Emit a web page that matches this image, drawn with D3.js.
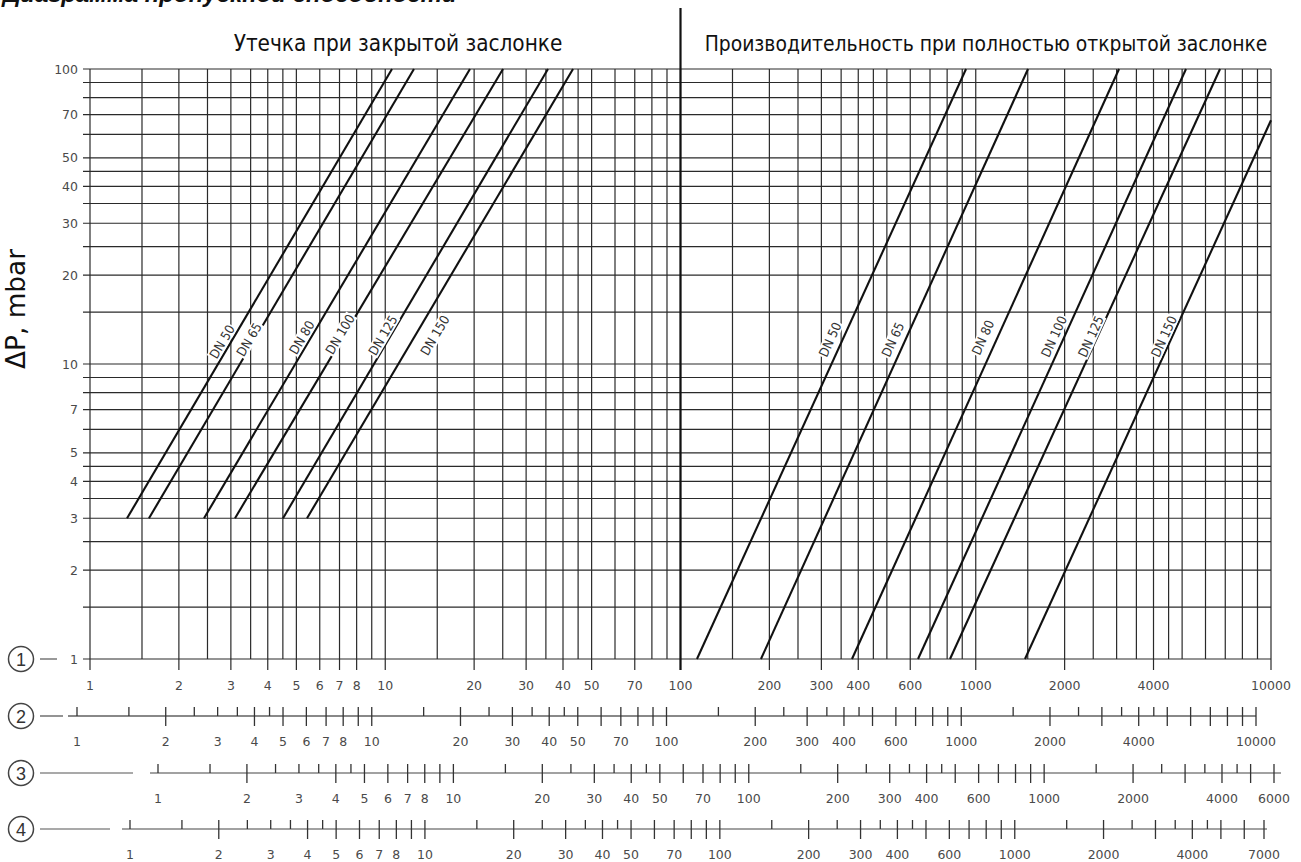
<!DOCTYPE html>
<html><head><meta charset="utf-8">
<script src="https://cdn.jsdelivr.net/npm/d3@7"></script>
<style>body{margin:0;background:#fff} svg{display:block}</style>
</head><body>
<script>
// ---------- data ----------
const titleText = "Диаграмма пропускной способности";
const leftHeader = "Утечка при закрытой заслонке";
const rightHeader = "Производительность при полностью открытой заслонке";
const yTitle = "ΔP, mbar";
const gridMantissas = [1, 1.5, 2, 2.5, 3, 3.5, 4, 4.5, 5, 6, 7, 8, 9];
const shortTickMantissas = [1.5, 2.5, 3.5, 4.5];
const shortTickExtra = [1, 3];
const yTickLabels = [1, 2, 3, 4, 5, 7, 10, 20, 30, 40, 50, 70, 100];
const xLabels1 = [1,2,3,4,5,6,7,8,10,20,30,40,50,70,100,200,300,400,600,1000,2000,4000,10000];
const xLabels2 = [1,2,3,4,5,6,7,8,10,20,30,40,50,70,100,200,300,400,600,1000,2000,4000,10000];
const xLabels3 = [1,2,3,4,5,6,7,8,10,20,30,40,50,70,100,200,300,400,600,1000,2000,4000,6000];
const xLabels4 = [1,2,3,4,5,6,7,8,10,20,30,40,50,70,100,200,300,400,600,1000,2000,4000,7000];
const scaleMax = [10000, 10000, 6000, 7000];
const scaleIds = ["1", "2", "3", "4"];

const dnNames = ["DN 50", "DN 65", "DN 80", "DN 100", "DN 125", "DN 150"];
// leakage with closed damper (ΔP 3 -> 100)
const leakStartQ = [1.335, 1.584, 2.433, 3.098, 4.505, 5.433];
const leakStartP = [3, 3, 3, 3, 3, 3];
const leakEndQ = [10.54, 12.51, 19.36, 25.05, 35.58, 43.25];
const leakEndP = [100, 100, 100, 100, 100, 100];
const leakLabelQ = [2.80, 3.46, 5.22, 7.03, 9.83, 14.74];
const leakLabelP = [11.9, 12.1, 12.3, 12.6, 12.5, 12.5];
// capacity with fully open damper (ΔP 1 -> 100)
const flowStartQ = [113.7, 187.3, 380.9, 637.5, 818.1, 1468];
const flowStartP = [1, 1, 1, 1, 1, 1];
const flowEndQ = [927, 1503, 3057, 5153, 6720, 10000];
const flowEndP = [100, 100, 100, 100, 100, 67];
const flowLabelQ = [321, 524, 1058, 1841, 2455, 4341];
const flowLabelP = [12.1, 12.1, 12.3, 12.4, 12.4, 12.4];

// ---------- drawing ----------
const W = 1301, H = 862;
const svg = d3.select("body").append("svg").attr("width", W).attr("height", H);
const x = d3.scaleLog().domain([1, 10000]).range([90, 1271]);
const y = d3.scaleLog().domain([1, 100]).range([659, 69]);
const sx = [
  x,
  d3.scaleLog().domain([1, 10000]).range([77, 1256]),
  d3.scaleLog().domain([1, 6000]).range([158, 1274]),
  d3.scaleLog().domain([1, 7000]).range([130, 1264])
];
const scaleLabels = [xLabels1, xLabels2, xLabels3, xLabels4];
const scaleY = [659, 716, 773, 829];

const gridColor = "#2a2a2a";
const labelFont = "'DejaVu Sans', Verdana, sans-serif";
const titleFont = "'Liberation Sans', Arial, sans-serif";
const tickColor = "#4a4a4a";

function gridVals(lo, hi) {
  const out = [];
  for (let e = 0; e <= 4; e++) for (const m of gridMantissas) {
    const v = +(m * Math.pow(10, e)).toPrecision(6);
    if (v >= lo && v <= hi) out.push(v);
  }
  return out;
}

// title (cut off at top, as in the source)
svg.append("text").attr("x", 3).attr("y", 2)
  .attr("font-family", titleFont).attr("font-weight", "bold").attr("font-style", "italic")
  .attr("font-size", 24).attr("fill", "#111").text(titleText);

function fitText(sel, target) {
  const w = sel.node().getComputedTextLength();
  const fs = parseFloat(sel.attr("font-size"));
  sel.attr("font-size", fs * target / w);
}
const headerFont = "'DejaVu Sans Condensed', 'DejaVu Sans', sans-serif";
const h1 = svg.append("text").attr("x", 398).attr("y", 51).attr("text-anchor", "middle")
  .attr("font-family", headerFont).attr("font-size", 18).attr("fill", "#111").text(leftHeader);
fitText(h1, 329);
const h2 = svg.append("text").attr("x", 986).attr("y", 51).attr("text-anchor", "middle")
  .attr("font-family", headerFont).attr("font-size", 18).attr("fill", "#111").text(rightHeader);
fitText(h2, 563);
const yt = svg.append("text").attr("transform", "translate(25,309) rotate(-90)").attr("text-anchor", "middle")
  .attr("font-family", "'DejaVu Sans', sans-serif").attr("font-size", 19).attr("fill", "#111").text(yTitle);
fitText(yt, 120);

// grid
const g = svg.append("g");
g.selectAll("line.h").data(gridVals(1, 100)).join("line")
  .attr("x1", 83).attr("x2", x(10000)).attr("y1", d => y(d)).attr("y2", d => y(d))
  .attr("stroke", gridColor).attr("stroke-width", 1.2);
g.selectAll("line.v").data(gridVals(1, 10000)).join("line")
  .attr("x1", d => x(d)).attr("x2", d => x(d))
  .attr("y1", y(100)).attr("y2", d => y(1) + (xLabels1.includes(d) ? 11 : 0))
  .attr("stroke", gridColor).attr("stroke-width", 1.2);

// divider
svg.append("line").attr("x1", x(100)).attr("x2", x(100)).attr("y1", 8).attr("y2", y(1) + 11)
  .attr("stroke", "#111").attr("stroke-width", 2.2);

// y tick labels
svg.selectAll("text.yl").data(yTickLabels).join("text")
  .attr("x", 78).attr("y", d => y(d) + 4.5).attr("text-anchor", "end")
  .attr("font-family", labelFont).attr("font-size", 12.5).attr("fill", tickColor).text(d => d);

// DN lines
const line = d3.line().x(d => x(d[0])).y(d => y(d[1]));
const lines = svg.append("g");
const labels = svg.append("g");
function drawGroup(sQ, sP, eQ, eP, lQ, lP) {
  dnNames.forEach((name, i) => {
    lines.append("path").attr("d", line([[sQ[i], sP[i]], [eQ[i], eP[i]]]))
      .attr("fill", "none").attr("stroke", "#111").attr("stroke-width", 2.1);
    const ang = Math.atan2(y(eP[i]) - y(sP[i]), x(eQ[i]) - x(sQ[i])) * 180 / Math.PI;
    const lg = labels.append("g").attr("transform", `translate(${x(lQ[i])},${y(lP[i])}) rotate(${ang})`);
    const rect = lg.append("rect").attr("fill", "#fff");
    const t = lg.append("text").attr("text-anchor", "middle").attr("dy", "0.35em")
      .attr("font-family", "'DejaVu Sans Condensed', 'DejaVu Sans', sans-serif")
      .attr("font-size", 13).attr("fill", "#333").text(name);
    const bb = t.node().getBBox();
    rect.attr("x", bb.x - 1).attr("y", bb.y + 1).attr("width", bb.width + 2).attr("height", bb.height - 2);
  });
}
drawGroup(leakStartQ, leakStartP, leakEndQ, leakEndP, leakLabelQ, leakLabelP);
drawGroup(flowStartQ, flowStartP, flowEndQ, flowEndP, flowLabelQ, flowLabelP);

// bottom scales
const sc = svg.append("g");
const dashEnds = [57, 63, 133, 110];
const axisStarts = [null, 68, 150, 122];
const axisEnds = [null, 1256, 1281, 1267];
scaleIds.forEach((id, k) => {
  const cy = scaleY[k];
  sc.append("circle").attr("cx", 21).attr("cy", cy).attr("r", 12.5)
    .attr("fill", "none").attr("stroke", "#444").attr("stroke-width", 1.5);
  sc.append("text").attr("x", 21).attr("y", cy + 6.5).attr("text-anchor", "middle")
    .attr("font-family", titleFont).attr("font-size", 18).attr("fill", "#333").text(id);
  sc.append("line").attr("x1", 40).attr("x2", dashEnds[k]).attr("y1", cy).attr("y2", cy)
    .attr("stroke", k === 1 ? "#888" : "#555").attr("stroke-width", k === 1 ? 1.8 : 1.2);
  const s = sx[k];
  if (k > 0) {
    sc.append("line").attr("x1", axisStarts[k]).attr("x2", axisEnds[k]).attr("y1", cy).attr("y2", cy)
      .attr("stroke", k === 1 ? "#888" : "#444").attr("stroke-width", k === 1 ? 1.8 : 1.2);
    const ticks = gridVals(1, scaleMax[k]);
    sc.selectAll(null).data(ticks).join("line")
      .attr("x1", d => s(d)).attr("x2", d => s(d))
      .attr("y1", cy - 9)
      .attr("y2", d => {
        const m = d / Math.pow(10, Math.floor(Math.log10(d) + 1e-9));
        const short = shortTickMantissas.some(v => Math.abs(v - m) < 1e-6) || shortTickExtra.includes(d);
        return short ? cy : cy + 10;
      })
      .attr("stroke", "#333").attr("stroke-width", 1.3);
  }
  sc.selectAll(null).data(scaleLabels[k]).join("text")
    .attr("x", d => s(d)).attr("y", k === 0 ? 690 : cy + 30).attr("text-anchor", "middle")
    .attr("font-family", labelFont).attr("font-size", 12.5).attr("fill", tickColor).text(d => d);
});
</script>
</body></html>
